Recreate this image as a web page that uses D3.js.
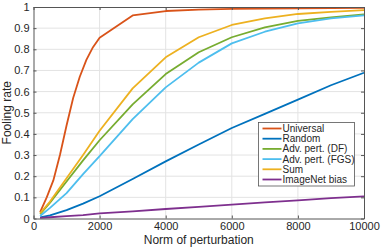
<!DOCTYPE html>
<html><head><meta charset="utf-8">
<script src="https://cdn.jsdelivr.net/npm/d3@7"></script>
<style>body{margin:0;background:#fff}svg{display:block}text{font-family:"Liberation Sans",Arial,Helvetica,sans-serif;fill:#262626}</style>
</head><body><svg id="c" width="381" height="248"></svg>
<script>
const xUniversal = [200,400,600,800,1000,1200,1400,1600,1800,2000,3000,4000,5000,6000,7000,8000,9000,10000];
const universal  = [0.03,0.10,0.18,0.30,0.44,0.57,0.67,0.75,0.81,0.855,0.96,0.981,0.988,0.991,0.993,0.994,0.995,0.996];
const xNorm = [200,500,1000,1500,2000,3000,4000,5000,6000,7000,8000,9000,10000];
const random   = [0.005,0.015,0.04,0.07,0.105,0.187,0.27,0.35,0.428,0.495,0.562,0.63,0.689];
const advDF    = [0.02,0.075,0.175,0.275,0.37,0.54,0.683,0.786,0.857,0.904,0.934,0.951,0.965];
const advFGS   = [0.012,0.05,0.12,0.21,0.295,0.47,0.62,0.737,0.828,0.883,0.923,0.946,0.96];
const sum      = [0.025,0.08,0.19,0.30,0.415,0.615,0.762,0.857,0.915,0.946,0.967,0.977,0.985];
const imagenet = [0.003,0.006,0.011,0.016,0.024,0.034,0.045,0.055,0.066,0.076,0.086,0.096,0.105];
const seriesNames = ["Universal","Random","Adv. pert. (DF)","Adv. pert. (FGS)","Sum","ImageNet bias"];
const colors = ["#D95319","#0072BD","#77AC30","#4DBEEE","#EDB120","#7E2F8E"];
const xTicks = [0,2000,4000,6000,8000,10000];
const yTicks = [0,0.1,0.2,0.3,0.4,0.5,0.6,0.7,0.8,0.9,1];

const series = [
  {name:seriesNames[0], xs:xUniversal, ys:universal},
  {name:seriesNames[1], xs:xNorm, ys:random},
  {name:seriesNames[2], xs:xNorm, ys:advDF},
  {name:seriesNames[3], xs:xNorm, ys:advFGS},
  {name:seriesNames[4], xs:xNorm, ys:sum},
  {name:seriesNames[5], xs:xNorm, ys:imagenet}
];

const svg = d3.select("#c");
const L=33.5, R=364, T=7, B=218.5;
const x = d3.scaleLinear().domain([0,10000]).range([L,R]);
const y = d3.scaleLinear().domain([0,1]).range([B,T]);

// grid
const g = svg.append("g");
g.selectAll(".gx").data(xTicks.slice(1,-1)).join("line")
  .attr("x1",d=>x(d)).attr("x2",d=>x(d)).attr("y1",T).attr("y2",B)
  .attr("stroke","#e3e3e3").attr("stroke-width",1);
g.selectAll(".gy").data(yTicks.slice(1,-1)).join("line")
  .attr("y1",d=>y(d)).attr("y2",d=>y(d)).attr("x1",L).attr("x2",R)
  .attr("stroke","#e3e3e3").attr("stroke-width",1);

// lines
const line = d3.line().x(d=>x(d[0])).y(d=>y(d[1]));
svg.append("g").selectAll("path").data(series).join("path")
  .attr("d",s=>line(s.xs.map((v,i)=>[v,s.ys[i]])))
  .attr("fill","none").attr("stroke",(s,i)=>colors[i]).attr("stroke-width",1.8)
  .attr("stroke-linejoin","round");

// axes
const ax = svg.append("g");
const xb = ax.append("g").attr("transform",`translate(0,${B})`)
  .call(d3.axisBottom(x).tickValues(xTicks).tickSizeInner(-3).tickSizeOuter(0).tickPadding(4).tickFormat(d3.format("d")));
const xt = ax.append("g").attr("transform",`translate(0,${T})`)
  .call(d3.axisTop(x).tickValues(xTicks).tickSizeInner(-3).tickSizeOuter(0).tickFormat(""));
const yl = ax.append("g").attr("transform",`translate(${L},0)`)
  .call(d3.axisLeft(y).tickValues(yTicks).tickSizeInner(-3).tickSizeOuter(0).tickPadding(4).tickFormat(d=>d===0?"0":d===1?"1":d3.format(".1f")(d)));
const yr = ax.append("g").attr("transform",`translate(${R},0)`)
  .call(d3.axisRight(y).tickValues(yTicks).tickSizeInner(-3).tickSizeOuter(0).tickFormat(""));
ax.selectAll(".domain").attr("stroke","#555").attr("stroke-width",1);
ax.selectAll(".tick line").attr("stroke","#555");
ax.selectAll(".tick text").attr("font-size","11px").style("fill","#262626");
xb.selectAll(".tick text").attr("dy","0.71em");

// labels
svg.append("text").attr("x",(L+R)/2).attr("y",244).attr("text-anchor","middle")
  .attr("font-size","12px").text("Norm of perturbation");
svg.append("text").attr("transform",`translate(11,${(T+B)/2}) rotate(-90)`).attr("text-anchor","middle")
  .attr("font-size","12px").text("Fooling rate");

// legend
const lg = svg.append("g");
lg.append("rect").attr("x",258.5).attr("y",122.5).attr("width",96).attr("height",63.5)
  .attr("fill","#fff").attr("stroke","#555").attr("stroke-width",0.8);
const ent = lg.selectAll("g.e").data(seriesNames).join("g").attr("class","e")
  .attr("transform",(d,i)=>`translate(0,${128.5+i*10.2})`);
ent.append("line").attr("x1",262.5).attr("x2",281.5).attr("y1",0).attr("y2",0)
  .attr("stroke",(d,i)=>colors[i]).attr("stroke-width",1.8);
ent.append("text").attr("x",282.5).attr("y",0).attr("dy","0.35em").attr("font-size","10px").text(d=>d);
</script></body></html>
